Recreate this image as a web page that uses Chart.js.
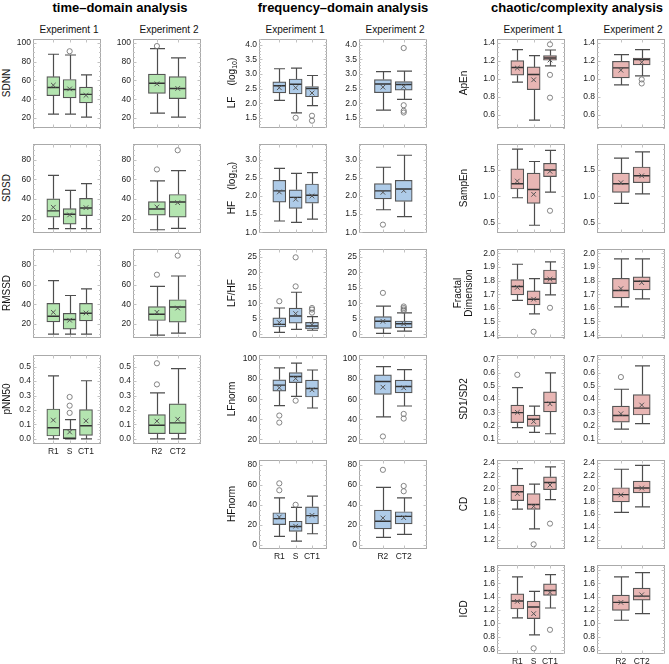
<!DOCTYPE html>
<html><head><meta charset="utf-8">
<script src="https://cdn.jsdelivr.net/npm/chart.js@4.4.1/dist/chart.umd.min.js"></script>
<style>
body{margin:0;background:#fff;width:669px;height:664px;position:relative;overflow:hidden;font-family:"Liberation Sans",Arial,sans-serif;}
.t{position:absolute;font-weight:bold;font-size:13px;transform:translate(-50%,-50%);white-space:nowrap;color:#000}
.e{position:absolute;font-size:10px;transform:translate(-50%,-50%);white-space:nowrap;color:#111}
.y{position:absolute;font-size:10px;transform:translate(-50%,-50%) rotate(-90deg);white-space:nowrap;text-align:center;line-height:11px;color:#111}
.y sub{font-size:7px;vertical-align:-2px;line-height:0}
</style></head><body>
<script>
// ---------- DATA ----------
const catsE1 = ['R1', 'S', 'CT1'];
const catsE2 = ['R2', 'CT2'];
// each entry: [lower whisker, Q1, median, Q3, upper whisker, mean]
const SDNN_1 = [[24.3,43.8,52.5,64,87.8,55],[24.3,41.4,50.4,61,87,51],[21.1,36.1,45.2,53,66,44.2]];
const SDNN_1_out = [[],[91],[]];
const SDNN_2 = [[25.3,46.2,57,66.8,93.7,56.4],[21.1,40.7,51.5,64,84,51.5]];
const SDNN_2_out = [[96.5],[]];
const SDNN_ticks = [20,40,60,80,100];

const SDSD_1 = [[9.6,21.4,27.8,40.2,64.2,31.5],[9.6,14.3,24.4,30.1,48.7,23.7],[9.6,23,30.8,40.6,55.7,31.1]];
const SDSD_1_out = [[],[],[]];
const SDSD_2 = [[8.5,23.4,29.8,37.2,58.4,31.8],[9.9,21.4,36.9,44.6,68.9,36.2]];
const SDSD_2_out = [[70.2],[89.8]];
const SDSD_ticks = [20,40,60,80];

const RMSSD_1 = [[10,22.3,28,41,64,32],[10,15,24.7,31,49,24],[10,23.3,31,41,55.7,31.3]];
const RMSSD_1_out = [[],[],[]];
const RMSSD_2 = [[9,23.7,30,37.7,58.3,32],[11,22,37.3,44.7,68.7,36.3]];
const RMSSD_2_out = [[70],[89.3]];
const RMSSD_ticks = [20,40,60,80];

const PNN50_1 = [[0,0.02,0.077,0.207,0.436,0.13],[0,0,0.005,0.066,0.134,0.048],[0,0.025,0.091,0.202,0.402,0.125]];
const PNN50_1_out = [[],[0.29,0.23,0.18],[]];
const PNN50_2 = [[0,0.036,0.095,0.168,0.318,0.123],[0,0.036,0.111,0.243,0.486,0.136]];
const PNN50_2_out = [[0.523,0.377],[]];
const PNN50_ticks = [0,0.1,0.2,0.3,0.4,0.5];

const LF_1 = [[2.1,2.35,2.6,2.73,3.18,2.53],[1.67,2.32,2.65,2.83,3.2,2.53],[1.92,2.22,2.5,2.57,2.95,2.35]];
const LF_1_out = [[],[1.5],[1.57,1.4]];
const LF_2 = [[1.76,2.36,2.66,2.81,3.08,2.55],[2.13,2.45,2.64,2.74,3.1,2.57]];
const LF_2_out = [[],[3.89,1.93,1.74,1.68]];
const LF_ticks = [1.5,2,2.5,3,3.5,4];

const HF_1 = [[1.31,1.83,2.14,2.43,2.76,2.11],[1.27,1.66,1.96,2.17,2.62,1.91],[1.36,1.8,2.02,2.33,2.64,2.0]];
const HF_1_out = [[],[],[]];
const HF_2 = [[1.62,1.92,2.14,2.34,2.79,2.1],[1.43,1.85,2.19,2.43,3.12,2.15]];
const HF_2_out = [[1.21],[]];
const HF_ticks = [1,1.5,2,2.5,3];

const LFHF_1 = [[0.6,2.35,3.2,5.3,8.5,3.8],[1.6,3.6,5.9,8.5,13.6,6.7],[1.3,1.7,2.7,3.85,5.7,3.1]];
const LFHF_1_out = [[10.7],[24.9,15.5],[8.5,8.0,7.0]];
const LFHF_2 = [[0.3,1.9,4.2,5.7,9.1,4.2],[1.0,2.1,3.4,4.3,6.9,3.4]];
const LFHF_2_out = [[13.4],[9.0,8.5,8.0,7.6]];
const LFHF_ticks = [0,5,10,15,20,25];

const LFN_1 = [[53.6,68.1,74,79.3,91.1,71.4],[62.8,76.6,82.6,86.5,96,80.6],[51.3,62.2,70.7,79,89.1,69.4]];
const LFN_1_out = [[43.8,36.8],[58.6],[]];
const LFN_2 = [[42.5,64.8,77.6,84.2,92.4,72],[53.3,66.4,72.7,79,89.5,71.4]];
const LFN_2_out = [[23],[45.4,40.8]];
const LFN_ticks = [20,40,60,80,100];

const HFN_1 = [[8.2,20.1,26,31.9,46.7,27.6],[3.6,13.2,18.1,23.4,37.2,18.4],[10.9,20.7,29,37.8,48.4,29.3]];
const HFN_1_out = [[61.2,54.3],[39.8],[]];
const HFN_2 = [[7.2,15.8,23.4,34.5,57.2,26.6],[10.2,20.7,28.3,32.9,46.7,27]];
const HFN_2_out = [[74.7],[58.6,53.3]];
const HFN_ticks = [0,20,40,60,80];

const APEN_1 = [[0.963,1.04,1.126,1.204,1.326,1.12],[0.537,0.878,1.048,1.133,1.26,0.989],[1.144,1.207,1.233,1.26,1.322,1.21]];
const APEN_1_out = [[],[],[1.385,1.044,0.789]];
const APEN_2 = [[0.933,1.011,1.122,1.196,1.27,1.096],[1.033,1.156,1.215,1.233,1.326,1.185]];
const APEN_2_out = [[],[0.993,0.948]];
const APEN_ticks = [0.6,0.8,1.0,1.2,1.4];

const SAMPEN_1 = [[0.975,1.14,1.24,1.52,1.894,1.29],[0.456,0.87,1.13,1.44,1.66,1.04],[1.08,1.375,1.5,1.625,1.87,1.475]];
const SAMPEN_1_out = [[],[],[0.73]];
const SAMPEN_2 = [[0.87,1.075,1.24,1.44,1.725,1.26],[1.05,1.26,1.39,1.556,1.84,1.39]];
const SAMPEN_2_out = [[],[]];
const SAMPEN_ticks = [0.5,1.0,1.5];

const FD_1 = [[1.654,1.695,1.756,1.807,1.92,1.75],[1.556,1.622,1.663,1.724,1.815,1.663],[1.695,1.778,1.812,1.878,1.937,1.81]];
const FD_1_out = [[],[1.424],[1.6]];
const FD_2 = [[1.607,1.673,1.727,1.817,1.959,1.741],[1.666,1.732,1.795,1.827,1.959,1.785]];
const FD_2_out = [[],[]];
const FD_ticks = [1.4,1.5,1.6,1.7,1.8,1.9,2.0];

const SD12_1 = [[0.186,0.223,0.298,0.355,0.486,0.3],[0.149,0.194,0.248,0.28,0.347,0.231],[0.139,0.303,0.375,0.454,0.598,0.365]];
const SD12_1_out = [[0.583],[],[]];
const SD12_2 = [[0.174,0.226,0.276,0.347,0.474,0.29],[0.216,0.28,0.332,0.434,0.65,0.355]];
const SD12_2_out = [[0.566],[]];
const SD12_ticks = [0.1,0.2,0.3,0.4,0.5,0.6,0.7];

const CD_1 = [[1.676,1.81,1.95,2.054,2.312,1.92],[1.366,1.671,1.749,1.92,2.07,1.72],[1.826,1.981,2.095,2.183,2.338,2.054]];
const CD_1_out = [[],[1.124],[1.449]];
const CD_2 = [[1.625,1.79,1.904,2.012,2.302,1.9],[1.713,1.93,2.007,2.116,2.364,2.007]];
const CD_2_out = [[],[]];
const CD_ticks = [1.2,1.4,1.6,1.8,2.0,2.2,2.4];

const ICD_1 = [[1.081,1.215,1.334,1.443,1.696,1.33],[0.828,1.071,1.245,1.334,1.478,1.145],[1.23,1.418,1.493,1.592,1.73,1.463]];
const ICD_1_out = [[],[0.625],[0.903]];
const ICD_2 = [[1.046,1.195,1.314,1.423,1.696,1.314],[1.146,1.349,1.408,1.527,1.76,1.428]];
const ICD_2_out = [[],[]];
const ICD_ticks = [0.6,0.8,1.0,1.2,1.4,1.6,1.8];

const groupTitles = ['time\u2013domain analysis', 'frequency\u2013domain analysis', 'chaotic/complexity analysis'];
const expTitles = ['Experiment 1', 'Experiment 2'];

// ---------- LAYOUT ----------
const FONT = '"Liberation Sans", Arial, sans-serif';
Chart.defaults.font.family = FONT;
const groupLeft = [[33,133],[259,359],[497,597]];
const groupTitleX = [120, 343, 577];
const yTitleX = [6, 231, 463];
const rowTop = [38,143,248,354,459,564];
const colors = ['#b4e5b0', '#aecbe8', '#e8b6b4'];
const xRange = [[-1.243, 2.919],[-1.15, 2.12]];
const barW = [13, 17];

const panels = [
  {g:0,r:0,label:'SDNN',s:[SDNN_1,SDNN_2],o:[SDNN_1_out,SDNN_2_out],t:SDNN_ticks,min:9.5,max:104,d:0},
  {g:0,r:1,label:'SDSD',s:[SDSD_1,SDSD_2],o:[SDSD_1_out,SDSD_2_out],t:SDSD_ticks,min:5.2,max:96.2,d:0},
  {g:0,r:2,label:'RMSSD',s:[RMSSD_1,RMSSD_2],o:[RMSSD_1_out,RMSSD_2_out],t:RMSSD_ticks,min:6,max:96,d:0},
  {g:0,r:3,label:'pNN50',s:[PNN50_1,PNN50_2],o:[PNN50_1_out,PNN50_2_out],t:PNN50_ticks,min:-0.035,max:0.58,d:1},
  {g:1,r:0,label:'LF&nbsp;&nbsp;&nbsp;&nbsp;(log<sub>10</sub>)',s:[LF_1,LF_2],o:[LF_1_out,LF_2_out],t:LF_ticks,min:1.15,max:4.2,d:1},
  {g:1,r:1,label:'HF&nbsp;&nbsp;&nbsp;&nbsp;(log<sub>10</sub>)',s:[HF_1,HF_2],o:[HF_1_out,HF_2_out],t:HF_ticks,min:0.98,max:3.43,d:1},
  {g:1,r:2,label:'LF/HF',s:[LFHF_1,LFHF_2],o:[LFHF_1_out,LFHF_2_out],t:LFHF_ticks,min:-1.2,max:27.6,d:0},
  {g:1,r:3,label:'LFnorm',s:[LFN_1,LFN_2],o:[LFN_1_out,LFN_2_out],t:LFN_ticks,min:15.5,max:104,d:0},
  {g:1,r:4,label:'HFnorm',s:[HFN_1,HFN_2],o:[HFN_1_out,HFN_2_out],t:HFN_ticks,min:-4.3,max:84.5,d:0},
  {g:2,r:0,label:'ApEn',s:[APEN_1,APEN_2],o:[APEN_1_out,APEN_2_out],t:APEN_ticks,min:0.45,max:1.445,d:1},
  {g:2,r:1,label:'SampEn',s:[SAMPEN_1,SAMPEN_2],o:[SAMPEN_1_out,SAMPEN_2_out],t:SAMPEN_ticks,min:0.31,max:1.99,d:1},
  {g:2,r:2,label:'Fractal<br>Dimension',s:[FD_1,FD_2],o:[FD_1_out,FD_2_out],t:FD_ticks,min:1.378,max:2.032,d:1},
  {g:2,r:3,label:'SD1/SD2',s:[SD12_1,SD12_2],o:[SD12_1_out,SD12_2_out],t:SD12_ticks,min:0.062,max:0.732,d:1},
  {g:2,r:4,label:'CD',s:[CD_1,CD_2],o:[CD_1_out,CD_2_out],t:CD_ticks,min:1.051,max:2.447,d:1},
  {g:2,r:5,label:'ICD',s:[ICD_1,ICD_2],o:[ICD_1_out,ICD_2_out],t:ICD_ticks,min:0.54,max:1.875,d:1}
];
const lastRow = [3,4,5];

function addDiv(cls, html, x, y){
  const d = document.createElement('div');
  d.className = cls; d.innerHTML = html;
  d.style.left = x + 'px'; d.style.top = y + 'px';
  document.body.appendChild(d);
}

function boxPlugin(stats, ticks, capW){
  return {
    id: 'boxw',
    beforeDatasetsDraw(chart){
      const {ctx, chartArea:a, scales:{x, y}} = chart;
      ctx.save();
      // frame
      ctx.strokeStyle = '#aaaaaa'; ctx.lineWidth = 1;
      const L = Math.round(a.left), T = Math.round(a.top), R = Math.round(a.right), B = Math.round(a.bottom);
      ctx.strokeRect(L + 0.5, T + 0.5, R - L - 1, B - T - 1);
      // frame ticks
      ctx.strokeStyle = '#c2c2c2';
      const step = ticks[1] - ticks[0];
      const lead = Math.round(step / Math.pow(10, Math.floor(Math.log10(step) + 1e-9)));
      const nSub = lead === 2 ? 4 : 5;
      const mstep = step / nSub;
      ctx.beginPath();
      const k0 = Math.ceil((y.min - ticks[0]) / mstep - 1e-6), k1 = Math.floor((y.max - ticks[0]) / mstep + 1e-6);
      for (let k = k0; k <= k1; k++){
        const v = ticks[0] + k * mstep;
        const py = Math.round(y.getPixelForValue(v)) + 0.5;
        const len = (Math.abs(k % nSub) === 0) ? 3.5 : 2;
        ctx.moveTo(L, py); ctx.lineTo(L + len, py);
        ctx.moveTo(R, py); ctx.lineTo(R - len, py);
      }
      stats.forEach((s, i) => {
        const px = Math.round(x.getPixelForValue(i)) + 0.5;
        ctx.moveTo(px, B); ctx.lineTo(px, B - 3.5);
        ctx.moveTo(px, T); ctx.lineTo(px, T + 3.5);
      });
      ctx.stroke();
      // whiskers
      ctx.strokeStyle = '#4d4d4d'; ctx.lineWidth = 1.2;
      ctx.beginPath();
      stats.forEach((s, i) => {
        const px = Math.round(x.getPixelForValue(i)) + 0.5;
        const yl = y.getPixelForValue(s[0]), y1 = y.getPixelForValue(s[1]);
        const y3 = y.getPixelForValue(s[3]), yh = y.getPixelForValue(s[4]);
        ctx.moveTo(px, yl); ctx.lineTo(px, y1);
        ctx.moveTo(px, y3); ctx.lineTo(px, yh);
        const hw = capW / 2;
        ctx.moveTo(px - hw, yl); ctx.lineTo(px + hw, yl);
        ctx.moveTo(px - hw, yh); ctx.lineTo(px + hw, yh);
      });
      ctx.stroke();
      ctx.restore();
    },
    afterDatasetDraw(chart, args){
      if (args.index !== 0) return;
      const {ctx, scales:{x, y}} = chart;
      const meta = chart.getDatasetMeta(0);
      ctx.save();
      ctx.strokeStyle = '#333'; ctx.lineWidth = 1.4;
      ctx.beginPath();
      stats.forEach((s, i) => {
        const bar = meta.data[i];
        const hw = bar.width / 2 - 0.6;
        const py = y.getPixelForValue(s[2]);
        ctx.moveTo(bar.x - hw, py); ctx.lineTo(bar.x + hw, py);
      });
      ctx.stroke();
      ctx.restore();
    }
  };
}

function makePanel(left, top, cats, stats, outs, ticks, min, max, dec, color, showX, xr, bw){
  const W = 101, H = 110;
  const cv = document.createElement('canvas');
  cv.width = W; cv.height = H;
  cv.style.cssText = `position:absolute;left:${left - 28}px;top:${top - 4}px;width:${W}px;height:${H}px`;
  document.body.appendChild(cv);
  const outPts = [];
  outs.forEach((arr, i) => arr.forEach(v => outPts.push({x: i, y: v})));
  new Chart(cv, {
    type: 'bar',
    data: { datasets: [
      { type: 'bar', data: stats.map((s, i) => ({x: i, y: [s[1], s[3]]})), backgroundColor: color,
        borderColor: '#555', borderWidth: 1.2, borderSkipped: false, barThickness: bw, order: 3 },
      { type: 'line', showLine: false, data: outPts, pointStyle: 'circle', pointRadius: 2.6,
        pointBorderColor: '#777', pointBackgroundColor: 'rgba(255,255,255,0)', pointBorderWidth: 0.9, order: 2 },
      { type: 'line', showLine: false, data: stats.map((s, i) => ({x: i, y: s[5]})), pointStyle: 'crossRot',
        pointRadius: 3.3, pointBorderColor: '#555', pointBorderWidth: 1, order: 1 }
    ]},
    options: {
      responsive: false, animation: false, devicePixelRatio: 1,
      layout: { padding: { left: 0, right: 1, top: 4, bottom: 0 } },
      plugins: { legend: { display: false }, tooltip: { enabled: false } },
      scales: {
        x: { type: 'linear', min: xr[0], max: xr[1], offset: false,
          grid: { display: false, drawTicks: false, tickLength: 0 }, border: { display: false },
          afterBuildTicks: s => { s.ticks = cats.map((c, i) => ({ value: i })); },
          afterFit: s => { s.height = 16; s.paddingLeft = 0; s.paddingRight = 0; },
          ticks: { display: showX, autoSkip: false, maxRotation: 0, padding: 3, color: '#222',
            font: { size: 8.5, family: FONT }, callback: v => cats[Math.round(v)] } },
        y: { type: 'linear', min: min, max: max,
          grid: { display: false, drawTicks: false, tickLength: 0 }, border: { display: false },
          afterBuildTicks: s => { s.ticks = ticks.map(v => ({ value: v })); },
          afterFit: s => { s.width = 28; s.paddingTop = 0; s.paddingBottom = 0; },
          ticks: { padding: 2, color: '#222', font: { size: 8.5, family: FONT },
            callback: v => Number(v).toFixed(dec) } }
      }
    },
    plugins: [boxPlugin(stats, ticks, bw - 2)]
  });
}

// group titles and experiment headers
groupTitles.forEach((t, g) => {
  addDiv('t', t, groupTitleX[g], 7);
  expTitles.forEach((e, j) => addDiv('e', e, groupLeft[g][j] + 36, 29));
});

panels.forEach(p => {
  const top = rowTop[p.r];
  addDiv('y', p.label, yTitleX[p.g], top + 45);
  [0, 1].forEach(j => {
    makePanel(groupLeft[p.g][j], top, j === 0 ? catsE1 : catsE2, p.s[j], p.o[j], p.t, p.min, p.max, p.d,
      colors[p.g], p.r === lastRow[p.g], xRange[j], barW[j]);
  });
});
</script>
</body></html>
